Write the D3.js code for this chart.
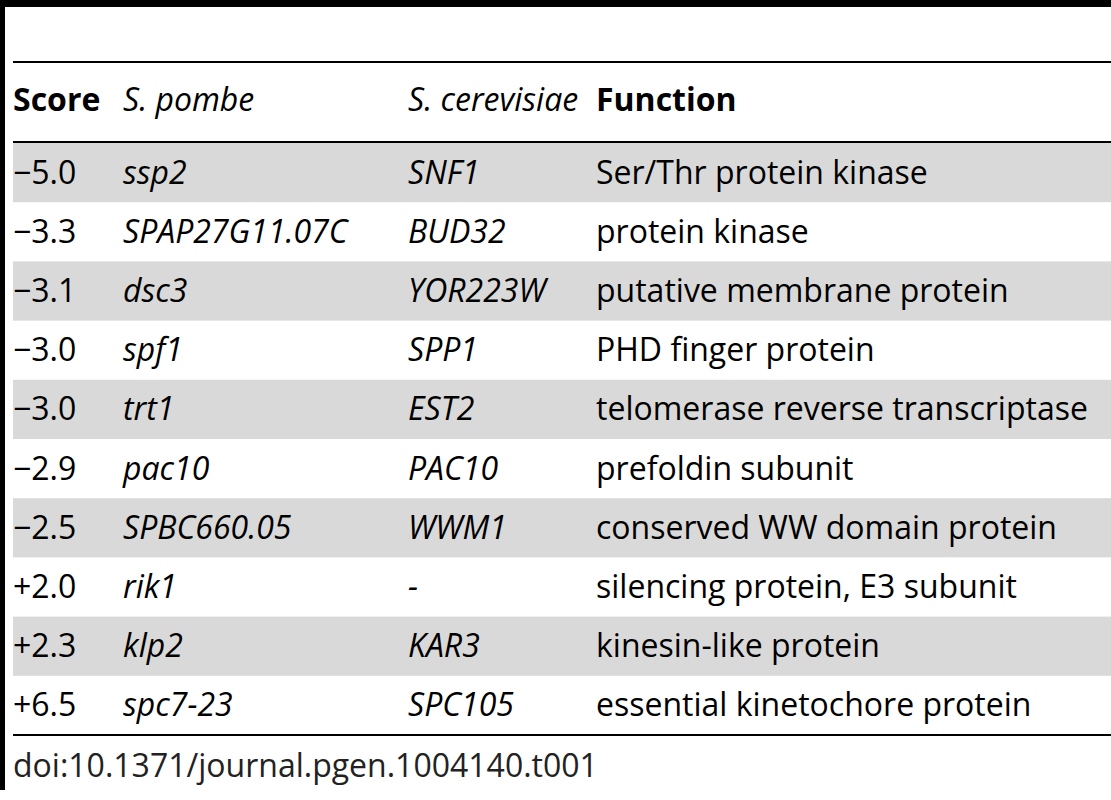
<!DOCTYPE html><html><head><meta charset="utf-8"><script src="https://cdn.jsdelivr.net/npm/d3@7"></script>
<style>body{margin:0;background:#fff}</style></head><body><svg id="c" width="1111" height="800"></svg><script>
const headers=["Score","S. pombe","S. cerevisiae","Function"];
const scores=["\u22125.0","\u22123.3","\u22123.1","\u22123.0","\u22123.0","\u22122.9","\u22122.5","+2.0","+2.3","+6.5"];
const pombe=["ssp2","SPAP27G11.07C","dsc3","spf1","trt1","pac10","SPBC660.05","rik1","klp2","spc7-23"];
const cerev=["SNF1","BUD32","YOR223W","SPP1","EST2","PAC10","WWM1","-","KAR3","SPC105"];
const func=["Ser/Thr protein kinase","protein kinase","putative membrane protein","PHD finger protein","telomerase reverse transcriptase","prefoldin subunit","conserved WW domain protein","silencing protein, E3 subunit","kinesin-like protein","essential kinetochore protein"];
const doi="doi:10.1371/journal.pgen.1004140.t001";
const svg=d3.select("#c");
const font="'Open Sans', sans-serif";
const fs=32;
const x=d3.scaleOrdinal().domain([0,1,2,3]).range([13,123,408,596]);
const y=d3.scaleBand().domain(d3.range(scores.length)).range([143,735]);
svg.append("rect").attr("x",0).attr("y",0).attr("width",1111).attr("height",7).attr("fill","#000");
svg.append("rect").attr("x",0).attr("y",0).attr("width",5).attr("height",790).attr("fill","#000");
svg.selectAll("rect.bg").data(d3.range(scores.length).filter(i=>i%2==0)).join("rect")
 .attr("x",13).attr("width",1098).attr("y",i=>y(i)).attr("height",y.bandwidth()).attr("fill","#d9d9d9");
[62,142,735].forEach(v=>svg.append("line").attr("x1",13).attr("x2",1111).attr("y1",v).attr("y2",v).attr("stroke","#000").attr("stroke-width",2));
svg.selectAll("text.h").data(headers).join("text").attr("x",(d,i)=>x(i)).attr("y",111)
 .attr("font-family",font).attr("font-size",fs).attr("font-weight",(d,i)=>i==0||i==3?"bold":"normal")
 .attr("font-style",(d,i)=>i==1||i==2?"italic":"normal").text(d=>d);
const cols=[scores,pombe,cerev,func];
cols.forEach((col,ci)=>{
 svg.selectAll("text.c"+ci).data(col).join("text").attr("x",x(ci)).attr("y",(d,i)=>y(i)+y.bandwidth()/2+11)
  .attr("font-family",font).attr("font-size",fs).attr("font-style",ci==1||ci==2?"italic":"normal").text(d=>d);
});
svg.append("text").attr("x",13).attr("y",777).attr("font-family",font).attr("font-size",fs).attr("fill","#222").text(doi);
</script></body></html>
